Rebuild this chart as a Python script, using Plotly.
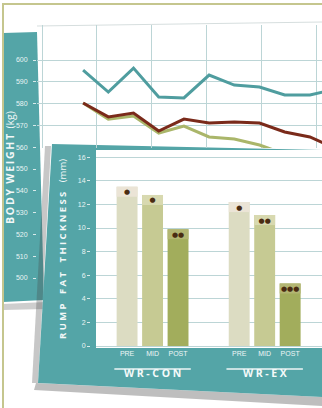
import plotly.graph_objects as go

# ---------------- data ----------------
# Body weight (kg) over time, three series (back chart)
weight_teal = [595.4, 585.3, 596.3, 583.0, 582.6, 593.1, 588.5, 587.6, 584.0, 584.0, 586.5]
weight_brown = [580.3, 573.9, 575.7, 567.4, 572.9, 571.1, 571.6, 571.1, 567.0, 564.7, 559.5]
weight_olive = [580.3, 572.9, 574.3, 566.5, 569.7, 564.7, 563.8, 561.0, 556.9, 552.0, 548.0]
weight_ticks = [500, 510, 520, 530, 540, 550, 560, 570, 580, 590, 600]

# Rump fat thickness (mm) (front chart)
groups = ["WR-CON", "WR-EX"]
phases = ["PRE", "MID", "POST"]
fat_values = [[13.5, 12.8, 9.9], [12.2, 11.1, 5.3]]
sig_marks = [[1, 1, 2], [1, 2, 3]]
fat_ticks = [0, 2, 4, 6, 8, 10, 12, 14, 16]

# ---------------- styling ----------------
W, H = 322, 408
TEAL = "#54a5a7"
GRID = "#bcd5d6"
BORDER = "#c5c68e"
bar_colors = {"PRE": "#dcdcc2", "MID": "#c6ca93", "POST": "#a2ad5c"}
cap_colors = {"PRE": "#ebe4d6", "MID": "#d8d9b0", "POST": "#b3b673"}
FONT = "Open Sans, DejaVu Sans, sans-serif"


def fx(p):
    return p / W


def fy(p):
    return 1 - p / H


def spaced(s, sep="\u2005"):
    return sep.join(list(s))


def spaced_words(words, sep="\u2005", wsep="\u2003"):
    return wsep.join(spaced(w, sep) for w in words.split(" "))


fig = go.Figure()

# ----- back chart lines -----
idx = list(range(len(weight_teal)))
fig.add_trace(go.Scatter(x=idx, y=weight_olive, mode="lines", xaxis="x", yaxis="y",
                         line=dict(color="#aab66a", width=3), showlegend=False))
fig.add_trace(go.Scatter(x=idx, y=weight_brown, mode="lines", xaxis="x", yaxis="y",
                         line=dict(color="#7a2a1a", width=3), showlegend=False))
fig.add_trace(go.Scatter(x=idx, y=weight_teal, mode="lines", xaxis="x", yaxis="y",
                         line=dict(color="#4f9d9f", width=3), showlegend=False))

# dummy trace for the long weight axis on the side panel
fig.add_trace(go.Scatter(x=[], y=[], xaxis="x3", yaxis="y3", showlegend=False))

# ----- front chart bars -----
gap = 1.4
positions = []
for gi, g in enumerate(groups):
    for pi, ph in enumerate(phases):
        positions.append(gi * (len(phases) + gap) + pi)

cap = 0.85
flat_vals, flat_cols, flat_caps, flat_txt, flat_phase = [], [], [], [], []
for gi, g in enumerate(groups):
    for pi, ph in enumerate(phases):
        flat_vals.append(fat_values[gi][pi])
        flat_cols.append(bar_colors[ph])
        flat_caps.append(cap_colors[ph])
        flat_txt.append("●" * sig_marks[gi][pi])
        flat_phase.append(ph)

fig.add_trace(go.Bar(x=positions, y=flat_vals, xaxis="x2", yaxis="y2", width=0.82,
                     marker=dict(color=flat_cols, line=dict(width=0)), showlegend=False))
fig.add_trace(go.Bar(x=positions, y=[cap] * len(flat_vals), base=[v - cap for v in flat_vals],
                     xaxis="x2", yaxis="y2", width=0.82,
                     marker=dict(color=flat_caps, line=dict(width=0)),
                     text=flat_txt, textposition="inside", insidetextanchor="middle",
                     constraintext="none", textangle=0,
                     textfont=dict(size=7, color="#4a2c12"), showlegend=False))

# ----- axes ranges derived from pixel layout -----
px_per_kg = 2.18
w_top = 600 + (60 - 25) / px_per_kg
w_mid_bottom = 600 - (148 - 60) / px_per_kg
w_bottom = 600 - (300 - 60) / px_per_kg

px_per_mm = 11.8
f_top = (346 - 150) / px_per_mm
f_bottom = (346 - 348) / px_per_mm

shapes = []
# back chart white plot card
shapes.append(dict(type="rect", xref="paper", yref="paper", x0=fx(37), x1=1, y0=fy(148), y1=fy(26),
                   fillcolor="white", line=dict(width=0), layer="below"))
shapes.append(dict(type="line", xref="paper", yref="paper", x0=fx(37), x1=1, y0=fy(26), y1=fy(22),
                   line=dict(color="#d6dede", width=1), layer="below"))
# back teal side panel with shadow
shapes.append(dict(type="path", xref="paper", yref="paper",
                   path=f"M {fx(3)},{fy(304)} L {fx(46)},{fy(302)} L {fx(46)},{fy(309)} L {fx(3)},{fy(310)} Z",
                   fillcolor="rgba(60,60,60,0.25)", line=dict(width=0), layer="below"))
shapes.append(dict(type="path", xref="paper", yref="paper",
                   path=f"M {fx(3)},{fy(33)} L {fx(37)},{fy(32)} L {fx(44)},{fy(300)} L {fx(3)},{fy(302)} Z",
                   fillcolor=TEAL, line=dict(width=0), layer="below"))
# front card shadow
shapes.append(dict(type="path", xref="paper", yref="paper",
                   path=f"M {fx(36)},{fy(383)} L {fx(322)},{fy(397)} L {fx(322)},{fy(406)} L {fx(34)},{fy(390)} Z",
                   fillcolor="rgba(70,70,70,0.35)", line=dict(width=0), layer="below"))
shapes.append(dict(type="path", xref="paper", yref="paper",
                   path=f"M {fx(45)},{fy(146)} L {fx(51)},{fy(146)} L {fx(38)},{fy(383)} L {fx(32)},{fy(383)} Z",
                   fillcolor="rgba(70,70,70,0.3)", line=dict(width=0), layer="below"))
# front teal card
shapes.append(dict(type="path", xref="paper", yref="paper",
                   path=f"M {fx(52)},{fy(144)} L {fx(322)},{fy(150)} L {fx(322)},{fy(397)} L {fx(38)},{fy(383)} Z",
                   fillcolor=TEAL, line=dict(width=0), layer="below"))
# front white plot area
shapes.append(dict(type="rect", xref="paper", yref="paper", x0=fx(96), x1=1, y0=fy(348), y1=fy(150),
                   fillcolor="white", line=dict(width=0), layer="below"))
# group underlines
for gi, g in enumerate(groups):
    gp = positions[gi * len(phases):(gi + 1) * len(phases)]
    shapes.append(dict(type="line", xref="x2", yref="paper", x0=gp[0] - 0.5, x1=gp[-1] + 0.5,
                       y0=fy(369), y1=fy(369), line=dict(color="#eef6f6", width=1.5)))
# outer border
shapes.append(dict(type="line", xref="paper", yref="paper", x0=fx(3), x1=fx(3), y0=0, y1=fy(3),
                   line=dict(color=BORDER, width=2)))
shapes.append(dict(type="line", xref="paper", yref="paper", x0=fx(3), x1=1, y0=fy(4), y1=fy(4),
                   line=dict(color=BORDER, width=2)))

annotations = []
for gi, g in enumerate(groups):
    gp = positions[gi * len(phases):(gi + 1) * len(phases)]
    annotations.append(dict(x=sum(gp) / len(gp), y=fy(382), xref="x2", yref="paper",
                            text=f"<b>{spaced(g)}</b>", showarrow=False,
                            font=dict(family=FONT, size=10.5, color="#f4fafa")))
# body weight axis title on the back side panel
annotations.append(dict(x=fx(10), y=fy(168), xref="paper", yref="paper", textangle=-90,
                        xanchor="center", yanchor="middle",
                        text="<b>" + spaced_words("BODY WEIGHT", sep="\u2006", wsep="\u2002") + "</b>\u2002(kg)",
                        showarrow=False, font=dict(family=FONT, size=10.5, color="#f2f8f8")))

tick_font = dict(family="Liberation Sans Narrow, Liberation Sans, sans-serif", size=7, color="#e8f4f4")

fig.update_layout(
    width=W, height=H,
    margin=dict(l=0, r=0, t=0, b=0),
    paper_bgcolor="white",
    plot_bgcolor="rgba(0,0,0,0)",
    barmode="overlay",
    showlegend=False,
    font=dict(family=FONT),
    shapes=shapes,
    annotations=annotations,
    xaxis=dict(domain=[fx(37), 1], range=[-1.83, 9.48], anchor="y",
               showgrid=True, gridcolor=GRID, gridwidth=1, tick0=0.55, dtick=2.18,
               showticklabels=False, ticks="", zeroline=False, showline=False),
    yaxis=dict(domain=[fy(148), fy(25)], range=[w_mid_bottom, w_top], anchor="x",
               tickvals=weight_ticks, showgrid=True, gridcolor=GRID, gridwidth=1,
               showticklabels=False, ticks="", zeroline=False, showline=False),
    xaxis3=dict(domain=[fx(37), fx(38)], visible=False, anchor="y3", range=[0, 1]),
    yaxis3=dict(domain=[fy(300), fy(25)], range=[w_bottom, w_top], anchor="x3",
                tickvals=weight_ticks, showgrid=False, zeroline=False, showline=False,
                ticks="outside", ticklen=3, tickcolor="#d8eaea", tickwidth=1,
                ticklabelstandoff=4, tickfont=tick_font),
    xaxis2=dict(domain=[fx(96), 1], range=[-1.22, 7.65], anchor="y2",
                tickvals=positions, ticktext=flat_phase, showgrid=False, zeroline=False,
                showline=False, ticks="", tickfont=dict(family=tick_font["family"], size=7, color="#eef6f6")),
    yaxis2=dict(domain=[fy(348), fy(150)], range=[f_bottom, f_top], anchor="free", position=fx(90),
                tickvals=fat_ticks, showgrid=True, gridcolor=GRID, gridwidth=1.2,
                zeroline=False, showline=False, ticks="outside", ticklen=3, tickcolor="#d8eaea",
                tickfont=tick_font,
                title=dict(text="<b>" + spaced_words("RUMP FAT THICKNESS") + "</b>\u2003(mm)",
                           font=dict(family=FONT, size=9.5, color="#f2f8f8"), standoff=8)),
)

fig.write_html("out.html")
